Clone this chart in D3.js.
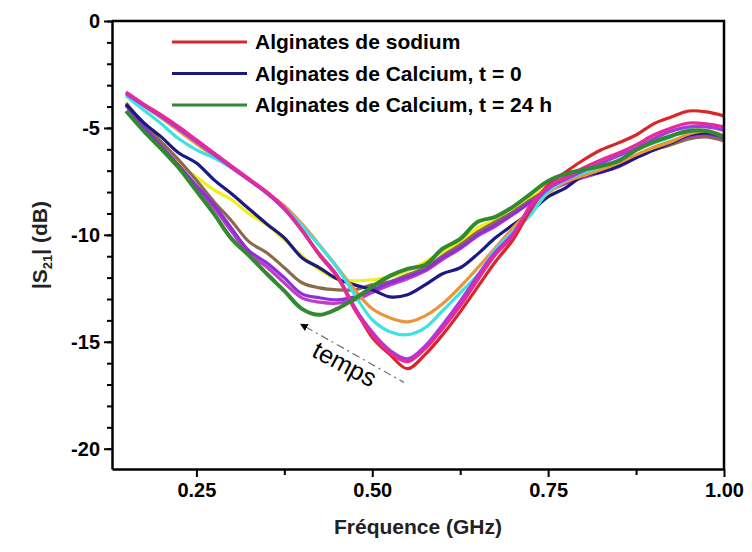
<!doctype html>
<html>
  <head>
    <meta charset="utf-8">
    <script src="https://d3js.org/d3.v7.min.js"></script>
    <style>
      body { margin: 0; background: #fff; overflow: hidden; }
      svg { display: block; font-family: "Liberation Sans", Arial, sans-serif; }
      .axis path, .axis line { stroke: #000; }
      .axis text { font-size: 20px; font-weight: bold; fill: #000; }
    </style>
  </head>
  <body>
    <script>
    // frequency grid (GHz)
    var freqs = [0.15,0.175,0.2,0.225,0.25,0.275,0.3,0.325,0.35,0.375,0.4,0.425,0.45,0.475,0.5,0.525,0.55,
                 0.575,0.6,0.625,0.65,0.675,0.7,0.725,0.75,0.775,0.8,0.825,0.85,0.875,0.9,0.925,0.95,0.975,1.0];

    // |S21| curves (dB)
    var yellow  = [-3.8,-4.85,-5.75,-6.7,-7.3,-7.9,-8.36,-9.02,-9.53,-10.23,-10.98,-11.64,-12.06,-12.15,-12.1,-11.96,-11.68,-11.26,-10.79,-10.33,-9.67,-9.3,-8.83,-8.27,-7.71,-7.34,-7.1,-6.87,-6.64,-6.26,-5.89,-5.61,-5.33,-5.23,-5.47];
    var brown   = [-3.85,-4.8,-5.65,-6.5,-7.45,-8.45,-9.35,-10.33,-10.84,-11.54,-12.24,-12.48,-12.57,-12.57,-12.34,-12.2,-11.87,-11.54,-10.98,-10.47,-9.86,-9.39,-8.93,-8.36,-7.9,-7.52,-7.24,-7.06,-6.82,-6.4,-6.03,-5.79,-5.51,-5.42,-5.61];
    var orchid  = [-3.95,-5.0,-5.92,-6.82,-7.8,-8.75,-9.85,-10.9,-11.5,-12.25,-12.95,-13.15,-13.2,-13.05,-12.7,-12.35,-12.05,-11.7,-11.15,-10.65,-10.05,-9.6,-9.05,-8.5,-7.97,-7.6,-7.32,-7.08,-6.8,-6.38,-5.95,-5.68,-5.4,-5.3,-5.5];
    var violet  = [-3.9,-4.95,-5.85,-6.75,-7.7,-8.6,-9.7,-10.75,-11.31,-12.01,-12.76,-12.94,-13.04,-12.9,-12.57,-12.24,-11.96,-11.64,-11.07,-10.61,-10.0,-9.53,-9.02,-8.46,-7.94,-7.57,-7.29,-7.06,-6.78,-6.36,-5.93,-5.65,-5.37,-5.28,-5.47];
    var navy    = [-3.9,-4.75,-5.42,-6.17,-6.64,-7.43,-8.08,-8.79,-9.49,-10.14,-11.07,-11.54,-12.06,-12.34,-12.57,-12.9,-12.8,-12.34,-11.82,-11.54,-10.89,-10.14,-9.53,-8.93,-8.22,-7.8,-7.24,-7.06,-6.78,-6.4,-6.03,-5.7,-5.33,-5.23,-5.42];
    var orange  = [-3.41,-3.97,-4.53,-5.14,-5.75,-6.31,-6.87,-7.43,-8.04,-8.64,-9.49,-10.47,-11.5,-12.57,-13.46,-13.88,-14.07,-13.79,-13.22,-12.43,-11.54,-10.61,-9.67,-8.83,-8.04,-7.52,-7.24,-6.96,-6.64,-6.26,-5.93,-5.65,-5.28,-5.14,-5.37];
    var cyan    = [-3.5,-4.16,-4.81,-5.51,-6.03,-6.4,-6.87,-7.43,-8.04,-8.69,-9.58,-10.51,-11.54,-12.8,-13.97,-14.53,-14.67,-14.35,-13.55,-12.71,-11.87,-10.7,-9.86,-9.07,-7.99,-7.43,-7.1,-6.82,-6.5,-6.03,-5.7,-5.42,-5.0,-4.91,-5.14];
    var red     = [-3.35,-3.92,-4.44,-5.0,-5.6,-6.2,-6.82,-7.42,-8.03,-8.78,-9.8,-10.95,-11.95,-13.4,-14.8,-15.6,-16.26,-15.6,-14.67,-13.6,-12.43,-11.26,-10.23,-8.83,-7.66,-7.06,-6.5,-6.03,-5.7,-5.33,-4.81,-4.49,-4.21,-4.25,-4.44];
    var purple  = [-3.4,-3.95,-4.47,-5.05,-5.65,-6.25,-6.85,-7.45,-8.05,-8.8,-9.8,-10.9,-11.9,-13.4,-14.55,-15.4,-15.8,-15.2,-14.2,-13.1,-11.9,-10.8,-9.95,-8.7,-7.85,-7.4,-7.0,-6.65,-6.3,-5.95,-5.5,-5.15,-4.95,-4.95,-5.1];
    var magenta = [-3.32,-3.88,-4.39,-4.95,-5.56,-6.17,-6.78,-7.38,-7.99,-8.74,-9.77,-10.93,-11.92,-13.5,-14.67,-15.51,-15.93,-15.33,-14.39,-13.32,-12.1,-10.93,-10.05,-8.6,-7.75,-7.29,-6.87,-6.5,-6.17,-5.79,-5.33,-5.0,-4.77,-4.81,-4.95];
    var green   = [-4.21,-5.14,-5.98,-6.87,-7.94,-9.02,-10.19,-10.98,-11.82,-12.62,-13.46,-13.74,-13.46,-12.99,-12.43,-11.92,-11.59,-11.4,-10.65,-10.19,-9.39,-9.16,-8.69,-8.08,-7.48,-7.15,-6.96,-6.78,-6.54,-6.03,-5.65,-5.37,-5.14,-5.14,-5.42];

    var seriesNames  = ['yellow','brown','orchid','violet','navy','orange','cyan','red','purple','magenta','green'];
    var seriesValues = [yellow, brown, orchid, violet, navy, orange, cyan, red, purple, magenta, green];
    var seriesColors = ['#f2ee1e','#8a6a4a','#c23cc8','#8e2fd8','#1a1a82','#e8963c','#3fe2e2','#d8262a','#a63ae2','#e62a96','#2f8a30'];

    var legendLabels = ['Alginates de sodium', 'Alginates de Calcium, t = 0', 'Alginates de Calcium, t = 24 h'];
    var legendColors = ['#d8262a', '#1a1a82', '#2f8a30'];

    var xTicks = [0.25, 0.5, 0.75, 1.0];
    var xMinor = [0.375, 0.625, 0.875];
    var yTicks = [0, -5, -10, -15, -20];
    var yMinor = d3.range(0, -21, -1);

    var width = 752, height = 552;
    var margin = {top: 21, right: 28, bottom: 83, left: 112};
    var innerWidth = width - margin.left - margin.right;
    var innerHeight = height - margin.top - margin.bottom;

    var svg = d3.select('body').append('svg')
      .attr('width', width)
      .attr('height', height);

    var g = svg.append('g')
      .attr('transform', 'translate(' + margin.left + ',' + margin.top + ')');

    var x = d3.scaleLinear().domain([0.13, 1.0]).range([0, innerWidth]);
    var y = d3.scaleLinear().domain([-20.95, 0]).range([innerHeight, 0]);

    // curves
    var line = d3.line()
      .x(function(d) { return x(d[0]); })
      .y(function(d) { return y(d[1]); })
      .curve(d3.curveCatmullRom);

    g.selectAll('.curve')
      .data(seriesValues)
      .enter()
      .append('path')
      .attr('class', 'curve')
      .attr('fill', 'none')
      .attr('stroke', function(d, i) { return seriesColors[i]; })
      .attr('stroke-width', function(d, i) { return seriesNames[i] === 'green' ? 4 : 3.2; })
      .attr('stroke-linejoin', 'round')
      .attr('d', function(vals) {
        return line(vals.map(function(v, k) { return [freqs[k], v]; }));
      });

    // plain hyphen for negative tick labels
    var fmtY = function(d) { return String(d); };

    // minor ticks (no labels)
    g.append('g')
      .attr('class', 'axis')
      .call(d3.axisLeft(y).tickValues(yMinor).tickSize(5).tickFormat(''))
      .call(function(s) { s.select('.domain').remove(); s.selectAll('text').remove(); })
      .selectAll('line').attr('stroke-width', 2);

    g.append('g')
      .attr('class', 'axis')
      .attr('transform', 'translate(0,' + innerHeight + ')')
      .call(d3.axisBottom(x).tickValues(xMinor).tickSize(6).tickFormat(''))
      .call(function(s) { s.select('.domain').remove(); s.selectAll('text').remove(); })
      .selectAll('line').attr('stroke-width', 2);

    // main axes
    var yAxis = g.append('g')
      .attr('class', 'axis')
      .call(d3.axisLeft(y).tickValues(yTicks).tickSize(8).tickSizeOuter(0).tickPadding(4).tickFormat(fmtY));
    yAxis.select('.domain').attr('stroke-width', 2.5);
    yAxis.selectAll('.tick line').attr('stroke-width', 2);

    var xAxis = g.append('g')
      .attr('class', 'axis')
      .attr('transform', 'translate(0,' + innerHeight + ')')
      .call(d3.axisBottom(x).tickValues(xTicks).tickSize(8).tickSizeOuter(0).tickPadding(6).tickFormat(d3.format('.2f')));
    xAxis.select('.domain').attr('stroke-width', 2.5);
    xAxis.selectAll('.tick line').attr('stroke-width', 2);

    // top and right frame
    g.append('path')
      .attr('d', 'M0,0H' + innerWidth + 'V' + innerHeight)
      .attr('fill', 'none')
      .attr('stroke', '#000')
      .attr('stroke-width', 2.5);

    // axis titles
    svg.append('text')
      .attr('x', margin.left + innerWidth / 2)
      .attr('y', 534)
      .attr('text-anchor', 'middle')
      .attr('font-size', '21px')
      .attr('font-weight', 'bold')
      .attr('fill', '#222')
      .text('Fréquence  (GHz)');

    var yt = svg.append('text')
      .attr('transform', 'translate(47,' + (margin.top + innerHeight / 2) + ') rotate(-90)')
      .attr('text-anchor', 'middle')
      .attr('font-size', '21px')
      .attr('font-weight', 'bold')
      .attr('fill', '#222');
    yt.append('tspan').text('|S');
    yt.append('tspan').attr('font-size', '13px').attr('dy', 5).text('21');
    yt.append('tspan').attr('dy', -5).text('|  (dB)');

    // legend
    var legend = g.selectAll('.legend')
      .data(legendLabels)
      .enter()
      .append('g')
      .attr('class', 'legend')
      .attr('transform', function(d, i) { return 'translate(60,' + (21 + i * 31.5) + ')'; });

    legend.append('line')
      .attr('x1', 0).attr('x2', 75)
      .attr('stroke', function(d, i) { return legendColors[i]; })
      .attr('stroke-width', 3);

    legend.append('text')
      .attr('x', 83)
      .attr('dy', '0.35em')
      .attr('font-size', '21px')
      .attr('font-weight', 'bold')
      .text(function(d) { return d; });

    // "temps" annotation
    svg.append('defs').append('marker')
      .attr('id', 'arrow')
      .attr('viewBox', '0 0 10 10')
      .attr('refX', 2).attr('refY', 5)
      .attr('markerWidth', 6).attr('markerHeight', 6)
      .attr('orient', 'auto-start-reverse')
      .append('path')
      .attr('d', 'M0,0L10,5L0,10z')
      .attr('fill', '#000');

    g.append('line')
      .attr('x1', x(0.405)).attr('y1', y(-14.3))
      .attr('x2', x(0.545)).attr('y2', y(-16.9))
      .attr('stroke', '#777')
      .attr('stroke-width', 1.3)
      .attr('stroke-dasharray', '8,4,2,4')
      .attr('marker-start', 'url(#arrow)');

    g.append('text')
      .attr('transform', 'translate(' + x(0.455) + ',' + y(-16.4) + ') rotate(28)')
      .attr('text-anchor', 'middle')
      .attr('font-size', '25px')
      .text('temps');
    </script>
  </body>
</html>
